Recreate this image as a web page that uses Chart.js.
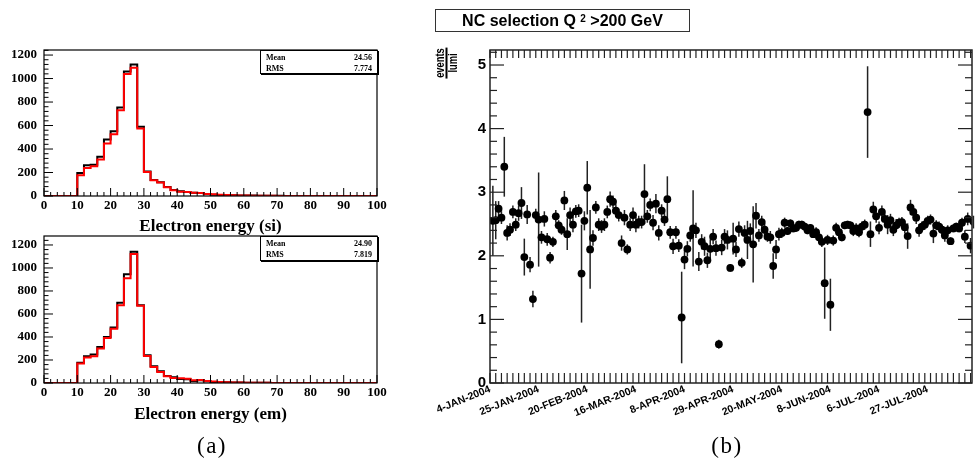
<!DOCTYPE html>
<html>
<head>
<meta charset="utf-8">
<script src="https://cdn.jsdelivr.net/npm/chart.js@4.4.1/dist/chart.umd.min.js"></script>
<style>
  body { margin:0; background:#fff; width:976px; height:468px; overflow:hidden; position:relative; font-family:"Liberation Sans", Arial, sans-serif; }
  canvas { position:absolute; }
  .stats { position:absolute; box-sizing:border-box; border:1px solid #000; box-shadow:1px 1px 0 #000; background:#fff;
           font:bold 8px "Liberation Serif", serif; padding:1px 5px 0 5px; }
  .stats .row { display:flex; justify-content:space-between; height:11px; line-height:11px; }
  .titlebox { position:absolute; left:435px; top:9px; width:255px; height:23px; box-sizing:border-box; border:1.5px solid #333;
              font:bold 16px "Liberation Sans", Arial, sans-serif; text-align:center; line-height:21px; color:#000; }
  .titlebox sup { font-size:10px; position:relative; top:-4px; vertical-align:baseline; }
  .caption { position:absolute; top:433px; width:60px; text-align:center; font:23px "Liberation Serif", serif; letter-spacing:1.5px; color:#000; }
  #ylab { position:absolute; left:446px; top:63px; width:0; height:0; }
  #ylab .frac { position:absolute; transform:translate(-50%,-50%) rotate(-90deg) scale(0.72,1); font:bold 13px "Liberation Sans", Arial, sans-serif;
                text-align:center; line-height:10px; white-space:nowrap; }
  #ylab .num { border-bottom:2px solid #000; padding:0 1px 1px 1px; }
</style>
</head>
<body>
<canvas id="hSi" width="390" height="200" style="left:0;top:40px"></canvas>
<canvas id="hEm" width="390" height="200" style="left:0;top:230px"></canvas>
<canvas id="rate" width="586" height="440" style="left:390px;top:0"></canvas>

<div class="stats" style="left:260px;top:50px;width:118px;height:24px">
  <div class="row"><span>Mean</span><span>24.56</span></div>
  <div class="row"><span>RMS</span><span>7.774</span></div>
</div>
<div class="stats" style="left:260px;top:236px;width:118px;height:25px">
  <div class="row"><span>Mean</span><span>24.90</span></div>
  <div class="row"><span>RMS</span><span>7.819</span></div>
</div>
<div class="titlebox">NC selection Q <sup>2</sup> &gt;200 GeV</div>
<div id="ylab"><div class="frac"><div class="num">events</div><div>lumi</div></div></div>
<div class="caption" style="left:182px">(a)</div>
<div class="caption" style="left:697px">(b)</div>

<script>
// ---- Electron energy histograms: 2 GeV bins from 0 to 100 ----
const energyEdges = [0,2,4,6,8,10,12,14,16,18,20,22,24,26,28,30,32,34,36,38,40,42,44,46,48,
                     50,52,54,56,58,60,62,64,66,68,70,72,74,76,78,80,82,84,86,88,90,92,94,96,98];

const siBlack = [0,0,0,0,0,196,262,267,335,480,552,753,1061,1120,589,208,136,117,77,51,
                 40,34,28,26,17,11,9,7,6,5,4,4,3,3,2,2,1,1,1,1,1,0,0,0,0,0,0,0,0,0];
const siRed   = [0,0,0,0,0,176,239,253,310,446,526,731,1038,1092,574,205,134,114,74,48,
                 37,34,28,26,17,14,10,8,6,5,4,3,3,2,2,1,1,1,1,0,0,0,0,0,0,0,0,0,0,0];
const emBlack = [0,0,0,0,0,177,233,247,314,401,483,698,945,1142,677,241,145,102,61,49,
                 35,32,17,23,15,9,8,6,5,4,3,3,2,2,1,1,1,1,0,0,0,0,0,0,0,0,0,0,0,0];
const emRed   = [0,0,0,0,0,169,221,233,299,392,471,677,910,1122,671,235,140,96,58,44,
                 41,38,23,26,17,12,9,7,5,4,3,3,2,2,1,1,1,0,0,0,0,0,0,0,0,0,0,0,0,0];
const histYTicks = [0,200,400,600,800,1000,1200];

// ---- Event rate per luminosity, one point per run bin ----
const runBin = [];
for (let b = 1; b <= 169; b++) runBin.push(b);
const rate = [2.55,2.56,2.74,2.60,3.40,2.36,2.41,2.69,2.49,2.67,2.83,1.98,2.65,1.86,1.32,2.64,2.57,2.29,2.58,2.26,
              1.97,2.22,2.62,2.48,2.41,2.87,2.34,2.64,2.49,2.70,2.71,1.72,2.55,3.07,2.10,2.28,2.76,2.49,2.46,2.49,
              2.69,2.89,2.85,2.71,2.64,2.20,2.60,2.10,2.49,2.64,2.49,2.53,2.53,2.97,2.62,2.80,2.52,2.82,2.36,2.71,
              2.57,2.89,2.37,2.15,2.37,2.16,1.03,1.94,2.11,2.32,2.43,2.40,1.91,2.22,2.15,1.93,2.11,2.30,2.12,0.61,
              2.13,2.30,2.25,1.81,2.27,2.10,2.42,1.89,2.36,2.25,2.39,2.18,2.63,2.32,2.53,2.41,2.30,2.29,1.84,2.10,
              2.34,2.36,2.52,2.39,2.51,2.43,2.44,2.49,2.49,2.46,2.40,2.44,2.34,2.37,2.29,2.22,1.57,2.25,1.23,2.24,
              2.44,2.37,2.29,2.48,2.49,2.48,2.39,2.43,2.37,2.46,2.49,4.26,2.34,2.73,2.62,2.44,2.69,2.58,2.49,2.56,
              2.41,2.48,2.52,2.53,2.45,2.31,2.76,2.69,2.60,2.40,2.46,2.49,2.55,2.57,2.35,2.48,2.46,2.41,2.32,2.40,
              2.23,2.43,2.46,2.43,2.52,2.30,2.58,2.16,2.53];
const rateErr = [0.55,0.30,0.12,0.10,0.47,0.12,0.10,0.10,0.10,0.12,0.25,0.29,0.15,0.12,0.13,0.10,0.74,0.10,0.12,0.10,
                 0.09,0.08,0.10,0.08,0.08,0.15,0.25,0.12,0.12,0.10,0.10,0.77,0.15,0.42,0.62,0.12,0.10,0.10,0.10,0.10,
                 0.10,0.12,0.10,0.10,0.10,0.12,0.12,0.08,0.10,0.12,0.12,0.10,0.10,0.47,0.10,0.10,0.12,0.15,0.12,0.10,
                 0.10,0.36,0.10,0.12,0.10,0.10,0.72,0.15,0.12,0.10,0.60,0.12,0.15,0.12,0.15,0.12,0.15,0.12,0.12,0.07,
                 0.12,0.12,0.15,0.06,0.25,0.12,0.12,0.08,0.12,0.30,0.12,0.60,0.20,0.10,0.10,0.10,0.08,0.10,0.20,0.15,
                 0.10,0.08,0.08,0.06,0.06,0.06,0.06,0.06,0.06,0.06,0.06,0.06,0.06,0.08,0.08,0.08,0.56,0.08,0.41,0.08,
                 0.08,0.08,0.06,0.06,0.06,0.06,0.08,0.08,0.08,0.08,0.08,0.72,0.20,0.12,0.10,0.10,0.10,0.08,0.15,0.10,
                 0.10,0.10,0.08,0.08,0.10,0.20,0.12,0.10,0.10,0.10,0.08,0.08,0.08,0.08,0.15,0.08,0.08,0.08,0.10,0.08,
                 0.06,0.06,0.06,0.06,0.08,0.10,0.10,0.12,0.10];
const dateLabels = ['4-JAN-2004','25-JAN-2004','20-FEB-2004','16-MAR-2004','8-APR-2004',
                    '29-APR-2004','20-MAY-2004','8-JUN-2004','6-JUL-2004','27-JUL-2004'];
const dateLabelBins = [0,17,34,51,68,85,102,119,136,153];
const rateYTicks = [0,1,2,3,4,5];

// ROOT-style frame: box around the plot area with inward-pointing ticks
const rootFrame = {
  id: 'rootFrame',
  afterDatasetsDraw(chart, args, o) {
    const {ctx, chartArea: a, scales: {x, y}} = chart;
    const seg = (x1, y1, x2, y2) => { ctx.beginPath(); ctx.moveTo(x1, y1); ctx.lineTo(x2, y2); ctx.stroke(); };
    ctx.save();
    ctx.strokeStyle = o.color;
    ctx.lineWidth = o.lineWidth;
    ctx.strokeRect(a.left, a.top, a.right - a.left, a.bottom - a.top);
    ctx.lineWidth = o.tickWidth;
    for (let v = x.min; v <= x.max + 1e-9; v += o.xMinor) {
      const px = x.getPixelForValue(v);
      const major = o.xMajor && Math.abs(v / o.xMajor - Math.round(v / o.xMajor)) < 1e-6;
      const len = major ? o.xMajorLen : o.xMinorLen;
      seg(px, a.bottom, px, a.bottom - len);
      if (o.topTicks) seg(px, a.top, px, a.top + o.topLen);
    }
    for (let v = y.min; v <= y.max + 1e-9; v += o.yMinor) {
      const py = y.getPixelForValue(v);
      const major = Math.abs(v / o.yMajor - Math.round(v / o.yMajor)) < 1e-6;
      const len = major ? o.yMajorLen : o.yMinorLen;
      seg(a.left, py, a.left + len, py);
      if (o.rightTicks) seg(a.right, py, a.right - len, py);
    }
    ctx.restore();
  }
};

// Vertical error bars for the rate points
const errorBars = {
  id: 'errorBars',
  beforeDatasetsDraw(chart, args, o) {
    const {ctx, scales: {x, y}} = chart;
    ctx.save();
    ctx.strokeStyle = o.color;
    ctx.lineWidth = o.lineWidth;
    runBin.forEach((b, i) => {
      const px = x.getPixelForValue(b);
      ctx.beginPath();
      ctx.moveTo(px, y.getPixelForValue(rate[i] + rateErr[i]));
      ctx.lineTo(px, y.getPixelForValue(Math.max(0, rate[i] - rateErr[i])));
      ctx.stroke();
    });
    ctx.restore();
  }
};

const serif = '"Liberation Serif", "Times New Roman", serif';
const sans = '"Liberation Sans", Arial, sans-serif';

function histChart(id, black, red, title, yMax, topPad, axisH, titlePad) {
  const pts = v => energyEdges.map((e, i) => ({x: e, y: v[i]})).concat([{x: 100, y: v[v.length - 1]}]);
  return new Chart(document.getElementById(id), {
    type: 'line',
    data: {
      datasets: [
        {data: pts(red), borderColor: '#ff0000', borderWidth: 2, stepped: true, pointRadius: 0, order: 0},
        {data: pts(black), borderColor: '#000000', borderWidth: 2, stepped: true, pointRadius: 0, order: 1}
      ]
    },
    options: {
      responsive: false, animation: false, events: [],
      layout: {padding: {left: 0, top: topPad, right: 13, bottom: 0}},
      plugins: {
        legend: {display: false}, tooltip: {enabled: false},
        rootFrame: {color: '#000', lineWidth: 1.2, tickWidth: 1, xMajor: 10, xMinor: 2, xMajorLen: 8, xMinorLen: 4,
                    yMajor: 200, yMinor: 40, yMajorLen: 9, yMinorLen: 4.5}
      },
      scales: {
        x: {
          type: 'linear', min: 0, max: 100,
          grid: {display: false, drawTicks: false, tickLength: 0}, border: {display: false},
          ticks: {stepSize: 10, padding: 2, maxRotation: 0, color: '#000', font: {family: serif, weight: 'bold', size: 13},
                  callback: v => String(v)},
          title: {display: true, text: title, color: '#000', font: {family: serif, weight: 'bold', size: 17}, padding: {top: 0, bottom: titlePad}},
          afterFit(s) { s.height = axisH; s.paddingLeft = 0; s.paddingRight = 0; }
        },
        y: {
          min: 0, max: yMax,
          grid: {display: false, drawTicks: false, tickLength: 0}, border: {display: false},
          afterBuildTicks(s) { s.ticks = histYTicks.map(v => ({value: v})); },
          ticks: {padding: 7, color: '#000', font: {family: serif, weight: 'bold', size: 13}, callback: v => String(v)},
          afterFit(s) { s.width = 44; s.paddingTop = 0; s.paddingBottom = 0; }
        }
      }
    },
    plugins: [rootFrame]
  });
}

histChart('hSi', siBlack, siRed, 'Electron energy (si)', 1243, 10, 44, 3);
histChart('hEm', emBlack, emRed, 'Electron energy (em)', 1278, 6, 47, 5);

new Chart(document.getElementById('rate'), {
  type: 'scatter',
  data: {
    datasets: [{
      data: runBin.map((b, i) => ({x: b, y: rate[i]})),
      pointRadius: 3.9, pointBackgroundColor: '#000', pointBorderWidth: 0, showLine: false
    }]
  },
  options: {
    responsive: false, animation: false, events: [],
    layout: {padding: {left: 0, top: 50, right: 1, bottom: 0}},
    plugins: {
      legend: {display: false}, tooltip: {enabled: false},
      errorBars: {color: '#222', lineWidth: 1.5},
      rootFrame: {color: '#222', lineWidth: 1.5, tickWidth: 1.2, xMajor: 0, xMinor: 2, xMajorLen: 10, xMinorLen: 10,
                  topTicks: true, topLen: 8, rightTicks: true,
                  yMajor: 1, yMinor: 0.2, yMajorLen: 14, yMinorLen: 7}
    },
    scales: {
      x: {
        type: 'linear', min: 0, max: 168.5,
        grid: {display: false, drawTicks: false, tickLength: 0}, border: {display: false},
        afterBuildTicks(s) { s.ticks = dateLabelBins.map(v => ({value: v})); },
        ticks: {
          autoSkip: false, minRotation: 22, maxRotation: 22, padding: 0, color: '#000',
          font: {family: sans, weight: 'bold', size: 10.5},
          callback: v => dateLabels[dateLabelBins.indexOf(v)]
        },
        afterFit(s) { s.height = 57; s.paddingLeft = 0; s.paddingRight = 0; }
      },
      y: {
        min: 0, max: 5.236,
        grid: {display: false, drawTicks: false, tickLength: 0}, border: {display: false},
        afterBuildTicks(s) { s.ticks = rateYTicks.map(v => ({value: v})); },
        ticks: {padding: 4, color: '#000', font: {family: sans, weight: 'bold', size: 15}},
        afterFit(s) { s.width = 100; s.paddingTop = 0; s.paddingBottom = 0; }
      }
    }
  },
  plugins: [errorBars, rootFrame]
});
</script>
</body>
</html>
